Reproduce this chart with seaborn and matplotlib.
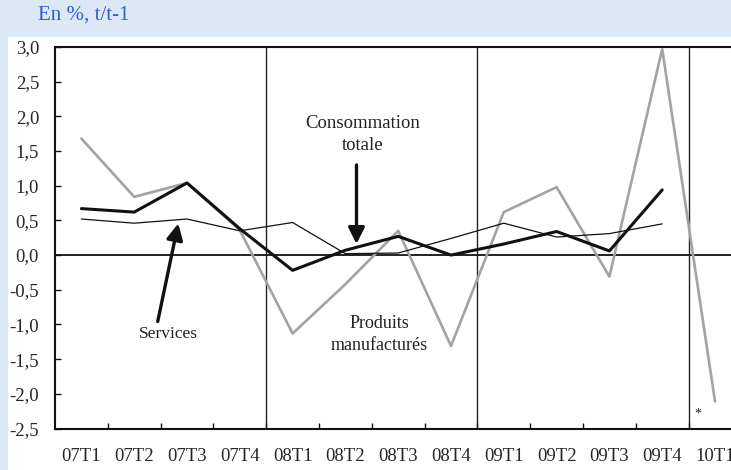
import numpy as np
import pandas as pd
import matplotlib
matplotlib.use("Agg")
import matplotlib.pyplot as plt
import seaborn as sns
from matplotlib.patches import Rectangle

# ---- data ----
quarters = ["07T1", "07T2", "07T3", "07T4", "08T1", "08T2", "08T3", "08T4",
            "09T1", "09T2", "09T3", "09T4", "10T1"]
conso_totale = [0.67, 0.62, 1.04, 0.38, -0.22, 0.07, 0.27, 0.00, 0.16, 0.34, 0.06, 0.94]
services = [0.52, 0.46, 0.52, 0.35, 0.47, 0.02, 0.03, 0.24, 0.46, 0.26, 0.31, 0.45]
produits_manuf = [1.68, 0.84, 1.04, 0.36, -1.13, -0.42, 0.35, -1.31, 0.62, 0.98, -0.31, 2.97, -2.11]
y_ticks = [3.0, 2.5, 2.0, 1.5, 1.0, 0.5, 0.0, -0.5, -1.0, -1.5, -2.0, -2.5]
year_breaks = [3.5, 7.5, 11.5]

df_conso = pd.DataFrame({"x": np.arange(len(conso_totale)), "v": conso_totale})
df_serv = pd.DataFrame({"x": np.arange(len(services)), "v": services})
df_prod = pd.DataFrame({"x": np.arange(len(produits_manuf)), "v": produits_manuf})

sns.set_style("white")
serif = ["Liberation Serif", "DejaVu Serif"]
plt.rcParams["font.family"] = serif

BG = "#dde8f7"
fig = plt.figure(figsize=(7.31, 4.70), dpi=100, facecolor=BG)
fig.patches.append(Rectangle((8 / 731, 0), 1, (470 - 37) / 470, transform=fig.transFigure,
                             facecolor="white", edgecolor="none", zorder=-5))
fig.text(38 / 731, 1 - 15 / 470, "En %, t/t-1", color="#2f5fd0", fontsize=15,
         va="center", ha="left")

ax = fig.add_axes([55 / 731, (470 - 428.5) / 470, (731 - 55) / 731, 381.5 / 470])
ax.set_facecolor("white")
ax.set_zorder(1)

sns.lineplot(data=df_prod, x="x", y="v", ax=ax, color="#a3a3a3", linewidth=1.9, zorder=3)
sns.lineplot(data=df_serv, x="x", y="v", ax=ax, color="#111111", linewidth=0.9, zorder=4)
sns.lineplot(data=df_conso, x="x", y="v", ax=ax, color="#111111", linewidth=2.2, zorder=5)

ax.axhline(0, color="#111111", lw=1.3, zorder=2)
for xb in year_breaks:
    ax.axvline(xb, color="#222222", lw=1.0, zorder=2)

ax.set_xlim(-0.5, -0.5 + (731 - 55) / 52.8)
ax.set_ylim(-2.5, 3.0)

ax.set_xticks(range(len(quarters)))
ax.set_xticklabels(quarters)
ax.set_xticks(np.arange(0.5, 12, 1.0), minor=True)
ax.tick_params(axis="x", which="major", length=0, pad=14, labelsize=13.5)
ax.tick_params(axis="x", which="minor", direction="in", length=4, width=1, color="#111111", bottom=True, top=False)
ax.set_yticks(y_ticks)
ax.set_yticklabels([f"{v:.1f}".replace(".", ",") for v in y_ticks])
ax.tick_params(axis="y", direction="in", length=4, width=1, color="#111111", pad=11.5, labelsize=13.5, left=True)
ax.set_xlabel("")
ax.set_ylabel("")

for side in ["left", "bottom", "top"]:
    ax.spines[side].set_visible(True)
    ax.spines[side].set_color("#111111")
    ax.spines[side].set_linewidth(1.5)
ax.spines["right"].set_visible(False)

arrow = dict(arrowstyle="-|>,head_length=0.7,head_width=0.35", lw=2.4, color="#111111",
             shrinkA=0, shrinkB=0, mutation_scale=14)
ax.annotate("", xy=(1.835, 0.457), xytext=(1.445, -0.958), arrowprops=arrow, zorder=6)
ax.annotate("", xy=(5.21, 0.16), xytext=(5.21, 1.30), arrowprops=arrow, zorder=6)

ax.text(1.64, -1.14, "Services", ha="center", va="center", fontsize=12.5, color="#222222")
ax.text(5.33, 1.74, "Consommation\ntotale", ha="center", va="center", fontsize=13.5,
        color="#222222", linespacing=1.35)
ax.text(5.65, -1.145, "Produits\nmanufacturés", ha="center", va="center", fontsize=13,
        color="#222222", linespacing=1.4)
ax.text(11.68, -2.29, "*", ha="center", va="center", fontsize=10, color="#222222")

fig.savefig("out.png", dpi=100, facecolor=BG)
